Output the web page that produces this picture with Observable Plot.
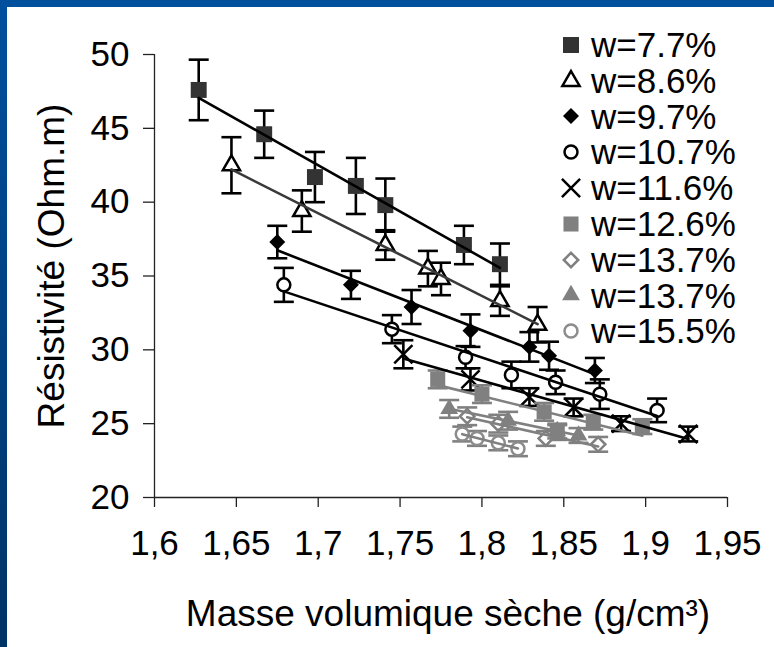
<!DOCTYPE html>
<html><head><meta charset="utf-8">
<script src="https://cdn.jsdelivr.net/npm/d3@7"></script>
<script src="https://cdn.jsdelivr.net/npm/@observablehq/plot@0.6"></script>
<style>
html,body{margin:0;padding:0;background:#fff;}
#wrap{position:relative;width:774px;height:647px;overflow:hidden;background:#fff;font-family:"Liberation Sans",Arial,sans-serif;}
#wrap > svg{position:absolute;left:0;top:0;}
#bt{position:absolute;left:0;top:0;width:774px;height:7px;background:#00509e;}
#bl{position:absolute;left:0;top:0;width:7px;height:647px;background:linear-gradient(#00509e,#003366);}
#legend{position:absolute;left:558px;top:27px;}
.row{height:35.8px;display:flex;align-items:center;font-size:35px;line-height:35.8px;color:#000;white-space:nowrap;}
.row svg{margin-right:7px;}
</style></head><body><div id="wrap"><div id="bt"></div><div id="bl"></div><div id="legend"></div></div>
<script>
// ---- data ----
const seriesNames = ["w=7.7%","w=8.6%","w=9.7%","w=10.7%","w=11.6%","w=12.6%","w=13.7%","w=13.7%","w=15.5%"];
const x1 = [1.627, 1.667, 1.698, 1.723, 1.741, 1.789, 1.811];
const y1 = [47.6, 44.6, 41.7, 41.1, 39.8, 37.1, 35.8];
const e1 = [2.05, 1.6, 1.7, 1.9, 1.8, 1.3, 1.4];
const x2 = [1.647, 1.690, 1.741, 1.767, 1.775, 1.811, 1.834];
const y2 = [42.5, 39.4, 37.1, 35.5, 34.8, 33.3, 31.7];
const e2 = [1.9, 1.4, 1.0, 1.2, 1.1, 1.0, 1.2];
const x3 = [1.675, 1.720, 1.757, 1.793, 1.829, 1.841, 1.869];
const y3 = [37.3, 34.4, 32.9, 31.3, 30.2, 29.6, 28.6];
const e3 = [1.1, 0.95, 1.15, 1.1, 1.0, 0.95, 0.85];
const x4 = [1.679, 1.745, 1.790, 1.818, 1.845, 1.872, 1.907];
const y4 = [34.4, 31.4, 29.5, 28.3, 27.8, 27.0, 25.9];
const e4 = [1.15, 0.95, 0.75, 0.9, 0.8, 1.0, 0.8];
const x5 = [1.752, 1.793, 1.829, 1.856, 1.885, 1.926];
const y5 = [29.7, 28.0, 26.8, 26.1, 25.0, 24.3];
const e5 = [0.95, 0.75, 0.6, 0.6, 0.5, 0.5];
const x6 = [1.773, 1.800, 1.838, 1.846, 1.868, 1.898];
const y6 = [28.0, 27.0, 25.8, 24.4, 25.1, 24.8];
const e6 = [0.6, 0.6, 0.6, 0.5, 0.5, 0.5];
const x7 = [1.791, 1.810, 1.839, 1.871];
const y7 = [25.5, 25.0, 24.0, 23.6];
const e7 = [0.6, 0.6, 0.5, 0.5];
const x8 = [1.780, 1.816, 1.846, 1.859];
const y8 = [26.0, 25.2, 24.5, 24.2];
const e8 = [0.6, 0.6, 0.5, 0.5];
const x9 = [1.788, 1.797, 1.810, 1.822];
const y9 = [24.3, 24.0, 23.7, 23.3];
const e9 = [0.5, 0.5, 0.5, 0.5];
const xTicks = [1.6, 1.65, 1.7, 1.75, 1.8, 1.85, 1.9, 1.95];
const yTicks = [20, 25, 30, 35, 40, 45, 50];
const xTitle = "Masse volumique sèche (g/cm³)";
const yTitle = "Résistivité (Ohm.m)";

// ---- styles ----
const styles = [
  {symbol:"square",   r:9,   fill:"#333333", stroke:"none",   sw:0,   err:"#000", line:"#000"},
  {symbol:"triangle", r:6.4, fill:"#fff",    stroke:"#000",   sw:2.5, err:"#000", line:"#3a3a3a"},
  {symbol:"diamond2", r:7.2, fill:"#000",    stroke:"none",   sw:0,   err:"#000", line:"#000"},
  {symbol:"circle",   r:6.5, fill:"#fff",    stroke:"#000",   sw:2.5, err:"#000", line:"#000"},
  {symbol:"times",    r:8.3, fill:"none",    stroke:"#000",   sw:2.5, err:"#000", line:"#000"},
  {symbol:"square",   r:8.5, fill:"#808080", stroke:"none",   sw:0,   err:"#808080", line:"#808080"},
  {symbol:"diamond2", r:6.5, fill:"#fff",    stroke:"#808080",sw:2.5, err:"#808080", line:"#808080"},
  {symbol:"triangle", r:6.6, fill:"#808080", stroke:"none",   sw:0,   err:"#808080", line:"#808080"},
  {symbol:"circle",   r:6.5, fill:"#fff",    stroke:"#8c8c8c",sw:2.5, err:"#808080", line:"#808080"}
];
const xs = [x1,x2,x3,x4,x5,x6,x7,x8,x9], ys=[y1,y2,y3,y4,y5,y6,y7,y8,y9], es=[e1,e2,e3,e4,e5,e6,e7,e8,e9];
const groups = seriesNames.map((n,i)=>xs[i].map((x,j)=>({series:n, x, y:ys[i][j], e:es[i][j]})));

const cap = {draw(ctx, size){const r=Math.sqrt(size/Math.PI); ctx.moveTo(-r,0); ctx.lineTo(r,0);}};
const fmt = d => String(+d.toFixed(2)).replace(".", ",");

const marks = [];
groups.forEach((g,i)=>{
  const s = styles[i];
  marks.push(Plot.ruleX(g,{x:"x", y1:d=>d.y-d.e, y2:d=>d.y+d.e, stroke:s.err, strokeWidth:2.6}));
  marks.push(Plot.dot(g,{x:"x", y:d=>d.y+d.e, symbol:cap, r:10, stroke:s.err, strokeWidth:2.6}));
  marks.push(Plot.dot(g,{x:"x", y:d=>d.y-d.e, symbol:cap, r:10, stroke:s.err, strokeWidth:2.6}));
  marks.push(Plot.dot(g,{x:"x", y:"y", symbol:s.symbol, r:s.r, fill:s.fill, stroke:s.stroke, strokeWidth:s.sw}));
});
groups.forEach((g,i)=>{
  marks.push(Plot.linearRegressionY(g,{x:"x", y:"y", stroke:styles[i].line, strokeWidth:2.6, ci:0}));
});

const chart = Plot.plot({
  width:774, height:647,
  marginLeft:154, marginRight:47, marginTop:54, marginBottom:150,
  style:{fontFamily:"'Liberation Sans', Arial, sans-serif", fontSize:"35px", color:"#000", background:"transparent"},
  x:{domain:[1.6,1.95]},
  y:{domain:[20,50]},
  marks:[
    Plot.axisX({ticks:xTicks, tickFormat:fmt, tickSize:10, tickPadding:23, fontSize:35, label:null, stroke:"#222", strokeWidth:1.3}),
    Plot.axisY({ticks:yTicks, tickSize:11, tickPadding:14, fontSize:35, label:null, stroke:"#222", strokeWidth:1.3}),
    Plot.ruleY([20],{stroke:"#222", strokeWidth:1.3}),
    Plot.ruleX([1.6],{stroke:"#222", strokeWidth:1.3}),
    ...marks,
    Plot.text([yTitle],{frameAnchor:"left", rotate:-90, dx:-102, dy:-10, fontSize:37, textAnchor:"middle", lineAnchor:"middle", text:d=>d}),
    Plot.text([xTitle],{frameAnchor:"bottom", dy:117, dx:7, fontSize:37, textAnchor:"middle", lineAnchor:"middle", text:d=>d})
  ]
});
document.getElementById("wrap").insertBefore(chart, document.getElementById("bt"));

// legend
const leg = d3.select("#legend");
seriesNames.forEach((n,i)=>{
  const s = styles[i];
  const row = leg.append("div").attr("class","row");
  const svg = row.append("svg").attr("width",26).attr("height",26);
  const sym = {square:d3.symbolSquare, triangle:d3.symbolTriangle, diamond2:d3.symbolDiamond2, circle:d3.symbolCircle, times:d3.symbolTimes}[s.symbol];
  const rr = s.r*1.0;
  svg.append("path").attr("transform","translate(13,13)")
    .attr("d", d3.symbol(sym, Math.PI*rr*rr)())
    .attr("fill", s.fill).attr("stroke", s.stroke==="none"?null:s.stroke).attr("stroke-width", s.sw);
  row.append("span").text(n);
});
</script></body></html>
